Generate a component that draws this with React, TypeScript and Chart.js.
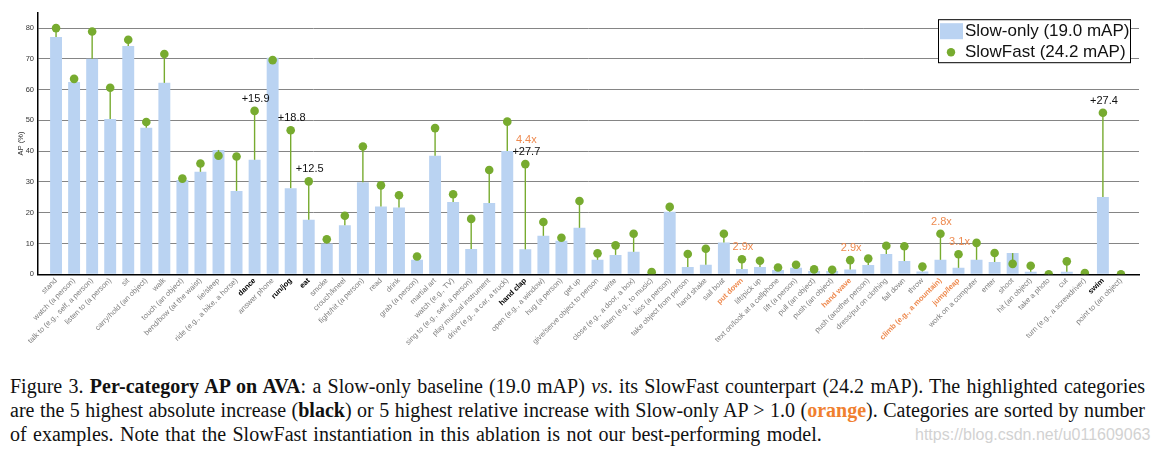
import React, { useEffect, useRef } from 'react';
import { Chart, registerables } from 'chart.js';

Chart.register(...registerables);

const categories = [
  'stand', 'watch (a person)', 'talk to (e.g., self, a person)', 'listen to (a person)', 'sit',
  'carry/hold (an object)', 'walk', 'touch (an object)', 'bend/bow (at the waist)', 'lie/sleep',
  'ride (e.g., a bike, a horse)', 'dance', 'answer phone', 'run/jog', 'eat',
  'smoke', 'crouch/kneel', 'fight/hit (a person)', 'read', 'drink',
  'grab (a person)', 'martial art', 'watch (e.g., TV)', 'sing to (e.g., self, a person)', 'play musical instrument',
  'drive (e.g., a car, a truck)', 'hand clap', 'open (e.g., a window)', 'hug (a person)', 'get up',
  'give/serve object to person', 'write', 'close (e.g., a door, a box)', 'listen (e.g., to music)', 'kiss (a person)',
  'take object from person', 'hand shake', 'sail boat', 'put down', 'lift/pick up',
  'text on/look at a cellphone', 'lift (a person)', 'pull (an object)', 'push (an object)', 'hand wave',
  'push (another person)', 'dress/put on clothing', 'fall down', 'throw', 'climb (e.g., a mountain)',
  'jump/leap', 'work on a computer', 'enter', 'shoot', 'hit (an object)',
  'take a photo', 'cut', 'turn (e.g., a screwdriver)', 'swim', 'point to (an object)',
];

const slowOnly = [
  77.1, 62.5, 70.0, 50.5, 74.2,
  47.6, 62.2, 30.6, 33.3, 40.4,
  27.1, 37.2, 70.4, 28.0, 17.7,
  10.0, 15.9, 29.9, 22.0, 21.7,
  4.7, 38.5, 23.5, 8.2, 23.2,
  40.1, 8.1, 12.5, 10.9, 15.1,
  4.7, 6.3, 7.3, 0.1, 20.3,
  2.4, 3.1, 10.3, 1.7, 2.4,
  1.4, 2.1, 1.1, 1.1, 1.6,
  3.0, 6.6, 4.3, 0.9, 4.7,
  2.1, 4.7, 4.0, 6.9, 0.8,
  0.1, 0.8, 0.0, 25.1, 0.0,
];

const slowFast = [
  80.0, 63.5, 78.9, 60.6, 76.2,
  49.5, 71.6, 31.1, 36.0, 38.5,
  38.3, 53.1, 69.6, 46.8, 30.2,
  11.4, 19.0, 41.5, 28.9, 25.7,
  5.8, 47.5, 26.0, 18.0, 33.9,
  49.6, 35.8, 17.0, 11.9, 23.8,
  6.8, 9.4, 13.2, 0.7, 21.9,
  6.6, 8.3, 13.2, 4.9, 4.4,
  2.2, 3.1, 1.6, 1.5, 4.6,
  5.1, 9.3, 9.1, 2.5, 13.2,
  6.5, 10.2, 6.9, 3.4, 2.8,
  0.0, 4.2, 0.4, 52.5, 0.0,
];

const yTickValues = [0, 10, 20, 30, 40, 50, 60, 70, 80];

const blackHighlights = ['dance', 'run/jog', 'eat', 'hand clap', 'swim'];
const orangeHighlights = ['put down', 'hand wave', 'climb (e.g., a mountain)', 'jump/leap'];

const absLabelCats = ['dance', 'run/jog', 'eat', 'hand clap', 'swim'];
const absLabelTexts = ['+15.9', '+18.8', '+12.5', '+27.7', '+27.4'];
const relLabelCats = ['hand clap', 'put down', 'hand wave', 'climb (e.g., a mountain)', 'jump/leap'];
const relLabelTexts = ['4.4x', '2.9x', '2.9x', '2.8x', '3.1x'];

const seriesNames = ['Slow-only (19.0 mAP)', 'SlowFast (24.2 mAP)'];

const BLUE = '#bad3f2';
const GREEN = '#77ab2f';
const ORANGE = '#ee8a4f';
const GRID = '#858585';
const LABEL_GRAY = '#7d7d7d';

const xLabels = ['', ...categories, ''];
const barData = [null, ...slowOnly, null];
const dotData = [null, ...slowFast, null];

const stemPlugin = {
  id: 'stems',
  beforeDatasetDraw(chart: any, args: any) {
    if (args.index !== 1) return;
    const { ctx } = chart;
    const xs = chart.scales.x;
    const ys = chart.scales.y;
    ctx.save();
    ctx.strokeStyle = GREEN;
    ctx.lineWidth = 1.4;
    slowOnly.forEach((v, i) => {
      const px = xs.getPixelForValue(i + 1);
      ctx.beginPath();
      ctx.moveTo(px, ys.getPixelForValue(v));
      ctx.lineTo(px, ys.getPixelForValue(slowFast[i]));
      ctx.stroke();
    });
    ctx.restore();
  },
};

const annotationPlugin = {
  id: 'annots',
  afterDatasetsDraw(chart: any) {
    const { ctx } = chart;
    const xs = chart.scales.x;
    const ys = chart.scales.y;
    ctx.save();
    ctx.font = '11px "Liberation Sans", Arial, sans-serif';
    ctx.textAlign = 'center';
    ctx.textBaseline = 'middle';
    absLabelCats.forEach((c, k) => {
      const i = categories.indexOf(c);
      const px = xs.getPixelForValue(i + 1);
      const py = ys.getPixelForValue(slowFast[i]);
      ctx.fillStyle = '#111';
      ctx.fillText(absLabelTexts[k], px + 1, py - 12);
    });
    relLabelCats.forEach((c, k) => {
      const i = categories.indexOf(c);
      const px = xs.getPixelForValue(i + 1);
      const py = ys.getPixelForValue(slowFast[i]);
      const stacked = absLabelCats.includes(c);
      ctx.fillStyle = ORANGE;
      ctx.fillText(relLabelTexts[k], px + 1, py - (stacked ? 24 : 12));
    });
    ctx.restore();
  },
};

const legendPlugin = {
  id: 'boxLegend',
  afterDraw(chart: any) {
    const { ctx, chartArea } = chart;
    const right = chartArea.right - 8;
    const left = right - 193;
    const top = chartArea.top + 6.5;
    const h = 44;
    ctx.save();
    ctx.fillStyle = '#fff';
    ctx.fillRect(left, top, right - left, h);
    ctx.strokeStyle = '#000';
    ctx.lineWidth = 1;
    ctx.strokeRect(left + 0.5, top + 0.5, right - left - 1, h - 1);
    ctx.fillStyle = BLUE;
    ctx.fillRect(left + 2, top + 4, 23, 16);
    ctx.fillStyle = GREEN;
    ctx.beginPath();
    ctx.arc(left + 13, top + 33, 4.2, 0, Math.PI * 2);
    ctx.fill();
    ctx.fillStyle = '#111';
    ctx.font = '17px "Liberation Sans", Arial, sans-serif';
    ctx.textAlign = 'left';
    ctx.textBaseline = 'middle';
    ctx.fillText(seriesNames[0], left + 27, top + 12.5);
    ctx.fillText(seriesNames[1], left + 27, top + 33.5);
    ctx.restore();
  },
};

function AvaChart() {
  const ref = useRef<HTMLCanvasElement | null>(null);
  useEffect(() => {
    if (!ref.current) return;
    const chart = new Chart(ref.current, {
      type: 'bar',
      data: {
        labels: xLabels,
        datasets: [
          {
            type: 'bar',
            label: seriesNames[0],
            data: barData as any,
            backgroundColor: BLUE,
            borderWidth: 0,
            categoryPercentage: 1,
            barPercentage: 0.66,
            order: 2,
          },
          {
            type: 'line',
            label: seriesNames[1],
            data: dotData as any,
            showLine: false,
            pointRadius: 4.3,
            pointBackgroundColor: GREEN,
            pointBorderWidth: 0,
            pointBorderColor: GREEN,
            order: 1,
          } as any,
        ],
      },
      options: {
        animation: false,
        responsive: false,
        maintainAspectRatio: false,
        events: [],
        layout: { padding: { left: 16, right: 21, top: 12.7, bottom: 0 } },
        plugins: {
          legend: { display: false },
          tooltip: { enabled: false },
          title: { display: false },
        },
        scales: {
          x: {
            type: 'category',
            offset: false,
            grid: { display: false, drawTicks: false },
            border: { display: true, color: '#000', width: 1.5 },
            ticks: {
              autoSkip: false,
              maxRotation: 45,
              minRotation: 45,
              padding: 2,
              color: (c: any) => {
                const l = c.tick && c.tick.label;
                if (blackHighlights.includes(l)) return '#000';
                if (orangeHighlights.includes(l)) return ORANGE;
                return LABEL_GRAY;
              },
              font: (c: any) => {
                const l = c.tick && c.tick.label;
                const bold = blackHighlights.includes(l) || orangeHighlights.includes(l);
                return { size: 7.5, family: '"Liberation Sans", Arial, sans-serif', weight: bold ? 'bold' : 'normal' } as any;
              },
            },
            afterFit: (s: any) => {
              s.height = 370 - 274.3;
            },
          },
          y: {
            min: 0,
            max: 85,
            grid: { color: GRID, lineWidth: 1, drawTicks: false },
            border: { display: true, color: '#000', width: 1.5 },
            ticks: {
              padding: 4,
              color: '#333',
              font: { size: 7.5, family: '"Liberation Sans", Arial, sans-serif' },
            },
            afterBuildTicks: (s: any) => {
              s.ticks = yTickValues.map((v) => ({ value: v }));
            },
            afterFit: (s: any) => {
              s.width = 22;
            },
            title: {
              display: true,
              text: 'AP (%)',
              color: '#333',
              padding: { top: 0, bottom: 2 },
              font: { size: 7.5, family: '"Liberation Sans", Arial, sans-serif' },
            },
          },
        },
      },
      plugins: [stemPlugin, annotationPlugin, legendPlugin],
    } as any);
    return () => chart.destroy();
  }, []);
  return <canvas ref={ref} width={1160} height={370} style={{ display: 'block', width: 1160, height: 370 }} />;
}

const lineStyle: React.CSSProperties = { textAlign: 'justify', textAlignLast: 'justify' as any, whiteSpace: 'nowrap' };

export default function App() {
  return (
    <div style={{ position: 'absolute', left: 0, top: 0, width: 1160, height: 456, background: '#fff', overflow: 'hidden' }}>
      <AvaChart />
      <div
        style={{
          position: 'absolute',
          left: 10,
          top: 374,
          width: 1135,
          fontFamily: '"Liberation Serif", "Times New Roman", serif',
          fontSize: 20,
          lineHeight: '24px',
          color: '#111',
        }}
      >
        <div style={lineStyle}>
          Figure 3. <b>Per-category AP on AVA</b>: a Slow-only baseline (19.0 mAP) <i>vs</i>. its SlowFast counterpart (24.2 mAP). The highlighted categories
        </div>
        <div style={lineStyle}>
          are the 5 highest absolute increase (<b>black</b>) or 5 highest relative increase with Slow-only AP &gt; 1.0 (<b style={{ color: '#f0802f' }}>orange</b>). Categories are sorted by number
        </div>
        <div style={{ whiteSpace: 'nowrap', wordSpacing: '1.4px' }}>
          of examples. Note that the SlowFast instantiation in this ablation is not our best-performing model.
        </div>
      </div>
      <div
        style={{
          position: 'absolute',
          left: 915,
          top: 423,
          fontFamily: '"Liberation Sans", Arial, sans-serif',
          fontSize: 16,
          lineHeight: '24px',
          color: '#d2d2d2',
          whiteSpace: 'nowrap',
        }}
      >
        https://blog.csdn.net/u011609063
      </div>
    </div>
  );
}
